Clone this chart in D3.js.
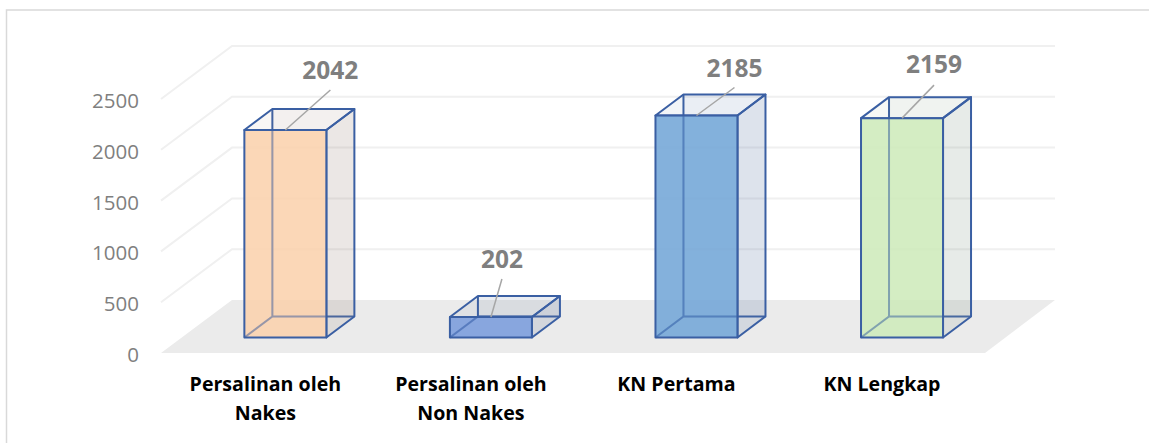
<!DOCTYPE html>
<html>
<head>
<meta charset="utf-8">
<script src="https://cdn.jsdelivr.net/npm/d3@7"></script>
<style>
  html, body { margin: 0; padding: 0; background: #fff; overflow: hidden; }
  text { font-family: "Open Sans", sans-serif; }
</style>
</head>
<body>
<div id="chart"></div>
<script>
// Datos
const categorias = ["Persalinan oleh Nakes", "Persalinan oleh Non Nakes", "KN Pertama", "KN Lengkap"];
const lineasCategoria = [["Persalinan oleh", "Nakes"], ["Persalinan oleh", "Non Nakes"], ["KN Pertama"], ["KN Lengkap"]];
const valores = [2042, 202, 2185, 2159];
const ticksY = [0, 500, 1000, 1500, 2000, 2500];

// Colores de cada barra
const colorFrente = ["#fad1ad", "#7a9cdc", "#73a6d7", "#ceeabb"];
const colorLado = ["#a08f84", "#5f7196", "#5f7ba8", "#8fa392"];

// Desplazamiento de etiquetas respecto al centro de la barra
const desplazamientoEtiqueta = [
    { dx: 45, dy: -51, lx: 45, ly: -40 },
    { dx: 11, dy: -49, lx: 11, ly: -38 },
    { dx: 38, dy: -39, lx: 38, ly: -28 },
    { dx: 32, dy: -45, lx: 32, ly: -33 }
];

const width = 1149;
const height = 443;
const pared = { dx: 71, dy: -53 };
const fondoCaja = { dx: 28, dy: -21 };
const sueloY = 353;
const izquierda = 161;
const derecha = 1055;
const azul = "#3a5fa3";
const grosor = 2;

const svg = d3.select("#chart").append("svg")
    .attr("width", width)
    .attr("height", height)
    .attr("viewBox", [0, 0, width, height])
    .style("display", "block");

// Marco
svg.append("path")
    .attr("fill", "none")
    .attr("stroke", "#d9d9d9")
    .attr("stroke-width", 1.5)
    .attr("d", `M6.5,${height}V10H${width}`);

const xScale = d3.scaleBand(categorias, [182.7, 1004.7])
    .paddingInner(0.601)
    .paddingOuter(0.3);

const yScale = d3.scaleLinear([0, 2500], [sueloY, 99]);
// Las cajas apoyan sobre el suelo, un poco mas atras que el borde frontal
const yCaja = yScale.copy().range([337.5, 337.5 - 254]);

// Suelo
svg.append("path")
    .attr("fill", "#ebebeb")
    .attr("d", `M${izquierda},${sueloY}L${izquierda + pared.dx},${sueloY + pared.dy}H${derecha}L${derecha - 70},${sueloY}Z`);

// Rejilla
svg.append("g")
    .selectAll("path")
    .data(ticksY.filter(d => d > 0))
    .join("path")
    .attr("fill", "none")
    .attr("stroke", "#f0f0f0")
    .attr("stroke-width", 2)
    .attr("d", d => `M${izquierda},${yScale(d)}L${izquierda + pared.dx},${yScale(d) + pared.dy}H${derecha}`);

// Eje Y
svg.append("g")
    .attr("transform", "translate(139,2)")
    .call(d3.axisLeft(yScale).tickValues(ticksY).tickSize(0).tickPadding(0).tickFormat(d3.format("d")))
    .call(g => g.select(".domain").remove())
    .call(g => g.selectAll("text")
        .attr("fill", "#7f7f7f")
        .style("font-size", "20.5px")
        .style("font-family", '"Open Sans", sans-serif'));

const datos = categorias.map((c, i) => ({ c, i, v: valores[i] }));

const cajas = svg.append("g")
    .selectAll("g")
    .data(datos)
    .join("g");

cajas.each(function (d) {
    const g = d3.select(this);
    const x0 = xScale(d.c);
    const x1 = x0 + xScale.bandwidth();
    const y0 = yCaja(0);
    const y1 = yCaja(d.v);
    const dx = fondoCaja.dx;
    const dy = fondoCaja.dy;

    // Caras traseras
    g.append("path")
        .attr("fill", colorLado[d.i])
        .attr("fill-opacity", 0.05)
        .attr("d", `M${x0 + dx},${y1 + dy}H${x1 + dx}V${y0 + dy}H${x0 + dx}Z`);
    g.append("path")
        .attr("fill", "none")
        .attr("stroke", azul)
        .attr("stroke-width", grosor)
        .attr("d", `M${x0},${y0}L${x0 + dx},${y0 + dy}H${x1 + dx}M${x0 + dx},${y0 + dy}V${y1 + dy}`);

    // Lado derecho
    g.append("path")
        .attr("fill", colorLado[d.i])
        .attr("fill-opacity", 0.17)
        .attr("stroke", azul)
        .attr("stroke-width", grosor)
        .attr("stroke-linejoin", "round")
        .attr("d", `M${x1},${y1}L${x1 + dx},${y1 + dy}V${y0 + dy}L${x1},${y0}Z`);

    // Tapa
    g.append("path")
        .attr("fill", colorLado[d.i])
        .attr("fill-opacity", 0.08)
        .attr("stroke", azul)
        .attr("stroke-width", grosor)
        .attr("stroke-linejoin", "round")
        .attr("d", `M${x0},${y1}L${x0 + dx},${y1 + dy}H${x1 + dx}L${x1},${y1}Z`);

    // Frente
    g.append("rect")
        .attr("x", x0)
        .attr("y", y1)
        .attr("width", x1 - x0)
        .attr("height", y0 - y1)
        .attr("fill", colorFrente[d.i])
        .attr("fill-opacity", 0.88)
        .attr("stroke", azul)
        .attr("stroke-width", grosor)
        .attr("stroke-linejoin", "round");

    // Aristas traseras vistas a traves del frente
    g.append("path")
        .attr("fill", "none")
        .attr("stroke", azul)
        .attr("stroke-opacity", 0.45)
        .attr("stroke-width", grosor)
        .attr("d", `M${x0},${y0}L${x0 + dx},${y0 + dy}H${x1}M${x0 + dx},${y0 + dy}V${y1}`);

    // Linea guia y etiqueta
    const cx = (x0 + x1) / 2;
    const off = desplazamientoEtiqueta[d.i];
    g.append("line")
        .attr("x1", cx)
        .attr("y1", y1)
        .attr("x2", cx + off.lx)
        .attr("y2", y1 + off.ly)
        .attr("stroke", "#a6a6a6")
        .attr("stroke-width", 1.5);
    g.append("text")
        .attr("x", cx + off.dx)
        .attr("y", y1 + off.dy)
        .attr("text-anchor", "middle")
        .attr("font-size", 24.5)
        .attr("font-weight", 700)
        .attr("fill", "#7f7f7f")
        .text(d.v);
});

// Etiquetas de categoria
const etiquetas = svg.append("g")
    .selectAll("text")
    .data(datos)
    .join("text")
    .attr("text-anchor", "middle")
    .attr("font-size", 19.6)
    .attr("font-weight", 700)
    .attr("fill", "#000");

etiquetas.selectAll("tspan")
    .data(d => lineasCategoria[d.i].map(t => ({ t, x: xScale(d.c) + xScale.bandwidth() / 2 - 20 })))
    .join("tspan")
    .attr("x", d => d.x)
    .attr("y", (d, i) => 391 + i * 29)
    .text(d => d.t);
</script>
</body>
</html>
